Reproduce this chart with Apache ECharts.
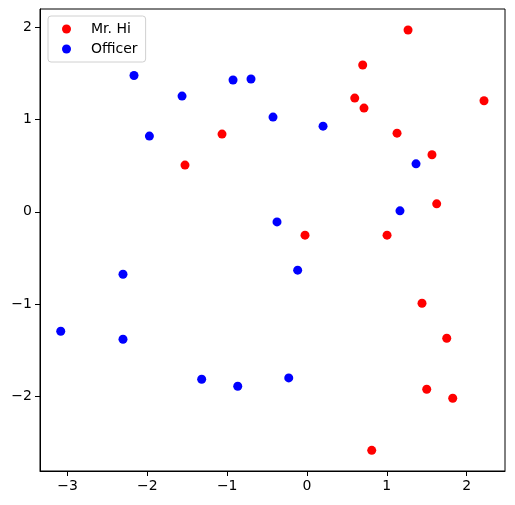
<!DOCTYPE html>
<html>
<head>
<meta charset="utf-8">
<script src="https://cdn.jsdelivr.net/npm/echarts@6/dist/echarts.min.js"></script>
<style>
  html, body { margin: 0; padding: 0; background: #fff; }
  #chart { width: 515px; height: 505px; }
</style>
</head>
<body>
<div id="chart"></div>
<script>
// points, [x, y]
const mrHi = [
  [-1.065, 0.844], [-1.529, 0.507], [1.266, 1.973], [0.698, 1.593],
  [0.598, 1.234], [0.714, 1.126], [2.218, 1.205], [1.128, 0.854],
  [1.566, 0.619], [1.625, 0.087], [-0.025, -0.253], [1.003, -0.253],
  [1.441, -0.992], [1.751, -1.372], [1.500, -1.925], [1.826, -2.023],
  [0.811, -2.588]
];
const officer = [
  [-2.168, 1.480], [-1.566, 1.256], [-0.927, 1.430], [-0.702, 1.441],
  [-1.975, 0.822], [-0.426, 1.028], [0.201, 0.930], [1.366, 0.521],
  [1.165, 0.011], [-0.376, -0.109], [-2.306, -0.677], [-3.086, -1.296],
  [-2.306, -1.383], [-1.320, -1.817], [-0.868, -1.893], [-0.117, -0.633],
  [-0.229, -1.802]
];
const xTicks = [-3, -2, -1, 0, 1, 2];
const yTicks = [-2, -1, 0, 1, 2];

const chart = echarts.init(document.getElementById('chart'));
const fmt = v => String(v).replace('-', '\u2212');
const font = 'DejaVu Sans';

chart.setOption({
  animation: false,
  backgroundColor: '#fff',
  textStyle: { fontFamily: font },
  grid: {
    left: 40, right: 10, top: 9, bottom: 34,
    show: true, borderColor: '#000', borderWidth: 1
  },
  legend: {
    orient: 'vertical',
    left: 48, top: 16,
    backgroundColor: '#fff',
    borderColor: '#d0d0d0', borderWidth: 1, borderRadius: 3,
    padding: [6, 8, 6, 14],
    itemWidth: 9, itemHeight: 9, itemGap: 6,
    icon: 'circle',
    textStyle: { fontFamily: font, fontSize: 14, color: '#000', padding: [0, 0, 0, 15] },
    data: ['Mr. Hi', 'Officer']
  },
  xAxis: {
    type: 'value', min: -3.346, max: 2.481,
    splitLine: { show: false },
    axisLine: { show: true, onZero: false, lineStyle: { color: '#000' } },
    axisTick: { show: true, length: 5, lineStyle: { color: '#000' }, customValues: xTicks },
    axisLabel: { color: '#000', fontSize: 14, fontFamily: font, margin: 8, customValues: xTicks, formatter: fmt }
  },
  yAxis: {
    type: 'value', min: -2.812, max: 2.201,
    splitLine: { show: false },
    axisLine: { show: true, onZero: false, lineStyle: { color: '#000' } },
    axisTick: { show: true, length: 5, lineStyle: { color: '#000' }, customValues: yTicks },
    axisLabel: { color: '#000', fontSize: 14, fontFamily: font, margin: 8, customValues: yTicks, formatter: fmt }
  },
  series: [
    { name: 'Mr. Hi', type: 'scatter', data: mrHi, symbolSize: 9,
      itemStyle: { color: '#ff0000', opacity: 1 } },
    { name: 'Officer', type: 'scatter', data: officer, symbolSize: 9,
      itemStyle: { color: '#0000ff', opacity: 1 } }
  ]
});
</script>
</body>
</html>
